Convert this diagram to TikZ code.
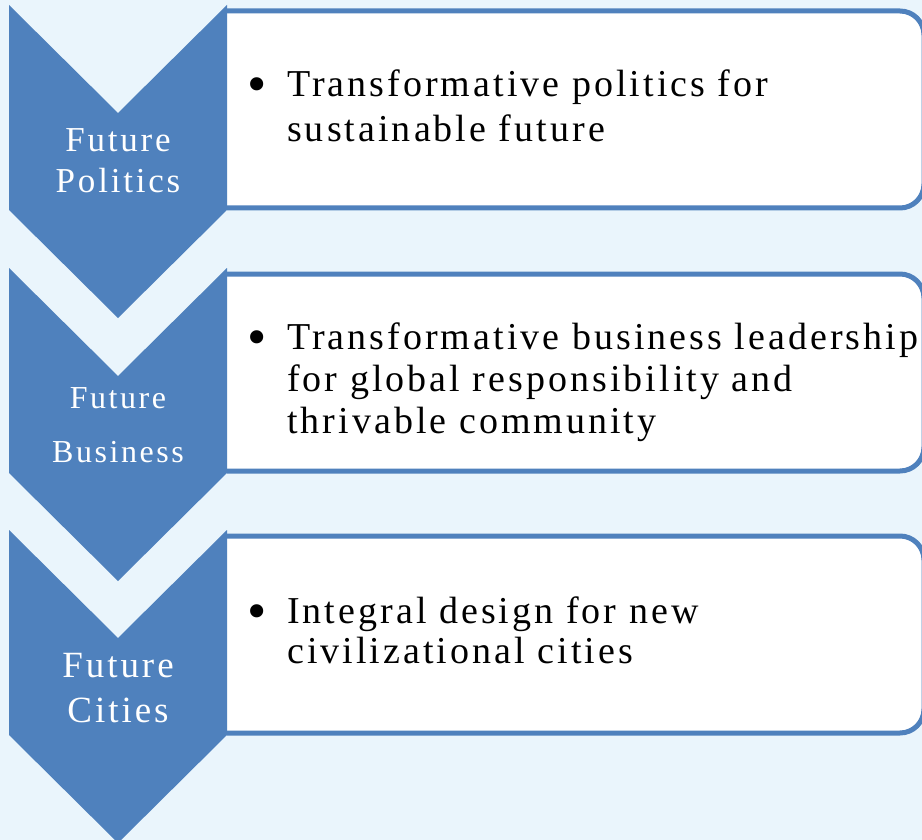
\documentclass[tikz,border=0pt]{standalone}
\usepackage{fontspec}
\setmainfont{Liberation Serif}
\newfontfamily\spacedfont[LetterSpace=8]{Liberation Serif}
\definecolor{bgblue}{HTML}{EAF5FC}
\definecolor{chevblue}{HTML}{4F81BD}
\newcommand{\bigbul}{\raisebox{-6pt}{\fontsize{55}{0}\selectfont\textbullet}}
\tikzset{
  chevron/.style={fill=chevblue, draw=none},
  itembox/.style={draw=chevblue, line width=5pt, fill=white},
  chevlabel/.style={text=white, inner sep=0pt, anchor=base},
  itemtext/.style={text=black, inner sep=0pt, anchor=base west}
}
\begin{document}
\begin{tikzpicture}[x=1pt, y=-1pt]
\useasboundingbox (0,0) rectangle (922,840);
\fill[bgblue] (0,0) rectangle (922,840);
% boxes
\foreach \y in {5,268,530} {
  \draw[itembox] (227,\y+6) [rounded corners=24pt] -- (924,\y+6) -- (924,\y+203) -- (227,\y+203);
}
% chevrons
\foreach \y in {5,268,530} {
  \path[chevron] (9,\y) -- (118,\y+108) -- (227,\y) -- (227,\y+205) -- (118,\y+313) -- (9,\y+205) -- cycle;
}
% chevron labels
\node[chevlabel] (l1) at (118,152) {\spacedfont\fontsize{35}{41}\selectfont\begin{tabular}[t]{@{}c@{}}Future\\Politics\end{tabular}};
\node[chevlabel] (l2) at (118,408) {\spacedfont\fontsize{32}{54}\selectfont\begin{tabular}[t]{@{}c@{}}Future\\Business\end{tabular}};
\node[chevlabel] (l3) at (118,677) {\spacedfont\fontsize{37}{45}\selectfont\begin{tabular}[t]{@{}c@{}}Future\\Cities\end{tabular}};
% item texts
\node[itemtext] (t1) at (247,97) {\spacedfont\fontsize{38}{45}\selectfont\begin{tabular}[t]{@{}p{40pt}@{}l@{}}\bigbul & Transformative politics for\\ & sustainable future\end{tabular}};
\node[itemtext] (t2) at (247,349) {\spacedfont\fontsize{38}{42}\selectfont\begin{tabular}[t]{@{}p{40pt}@{}l@{}}\bigbul & Transformative business leadership\\ & for global responsibility and\\ & thrivable community\end{tabular}};
\node[itemtext] (t3) at (247,623) {\spacedfont\fontsize{38}{40}\selectfont\begin{tabular}[t]{@{}p{40pt}@{}l@{}}\bigbul & Integral design for new\\ & civilizational cities\end{tabular}};
\end{tikzpicture}
\end{document}
